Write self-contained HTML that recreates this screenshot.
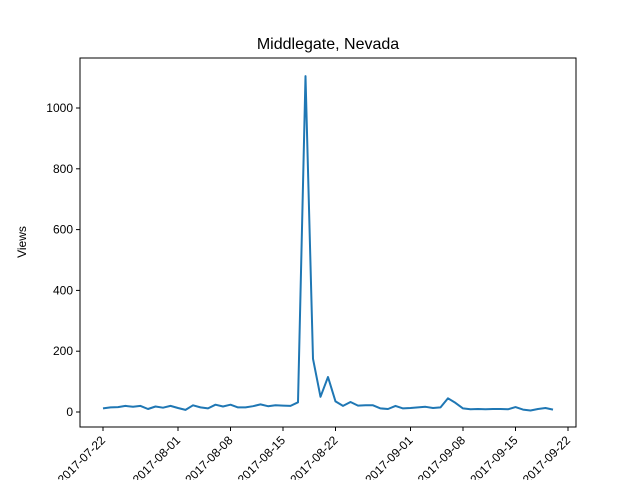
<!DOCTYPE html>
<html><head><meta charset="utf-8"><style>
body{margin:0;background:#fff}
svg text{font-family:"Liberation Sans","DejaVu Sans",sans-serif;fill:#000}
</style></head><body>
<svg id="chart" width="640" height="480" xmlns="http://www.w3.org/2000/svg">
<rect width="640" height="480" fill="#fff"/>
<text x="328" y="49" font-size="16" text-anchor="middle">Middlegate, Nevada</text>
<text x="26" y="242" font-size="12" text-anchor="middle" transform="rotate(-90 26 242)">Views</text>
<g id="plot"></g>
<rect x="80" y="58" width="496" height="369" fill="none" stroke="#000" stroke-width="1"/>
</svg>
<script>
const startDate = "2017-07-22";
const views = [12,15,16,20,17,20,10,18,14,20,13,7,22,15,12,24,18,24,15,15,19,25,19,22,21,20,32,1105,175,50,115,35,20,33,21,22,22,12,10,20,12,13,15,17,13,15,45,30,12,9,10,9,10,10,9,16,8,5,10,13,8];
const yTicks = [0,200,400,600,800,1000];
const xTickLabels = ["2017-07-22","2017-08-01","2017-08-08","2017-08-15","2017-08-22","2017-09-01","2017-09-08","2017-09-15","2017-09-22"];
const NS="http://www.w3.org/2000/svg";
const g=document.getElementById('plot');
const dayMs=86400000, t0=Date.parse(startDate+"T00:00:00Z");
function dayOf(s){return (Date.parse(s+"T00:00:00Z")-t0)/dayMs;}
function xs(d){return 103+d*7.5;}
function ys(v){return 412-v*0.304;}
function mk(tag,attrs){const e=document.createElementNS(NS,tag);for(const k in attrs)e.setAttribute(k,attrs[k]);g.appendChild(e);return e;}
yTicks.forEach(v=>{
  const t=mk('line',{x1:76,x2:80,y1:ys(v),y2:ys(v),stroke:'#000'});
  
  
  const l=mk('text',{x:73,y:ys(v)+4,'font-size':12,'text-anchor':'end'});
  l.textContent=v;
  
  
});
xTickLabels.forEach(s=>{
  const x=xs(dayOf(s));
  const t=mk('line',{x1:x,x2:x,y1:427,y2:431,stroke:'#000'});
  
  
  const l=mk('text',{x:x+3,y:441,'font-size':12,'text-anchor':'end',transform:`rotate(-45 ${x+3} 441)`});
  l.textContent=s;
  
  
});
const pts=views.map((v,i)=>xs(i).toFixed(1)+","+ys(v).toFixed(1)).join(" ");
const line=mk('polyline',{points:pts,fill:'none',stroke:'#1f77b4','stroke-width':2,'stroke-linejoin':'round'});


</script>
</body></html>
